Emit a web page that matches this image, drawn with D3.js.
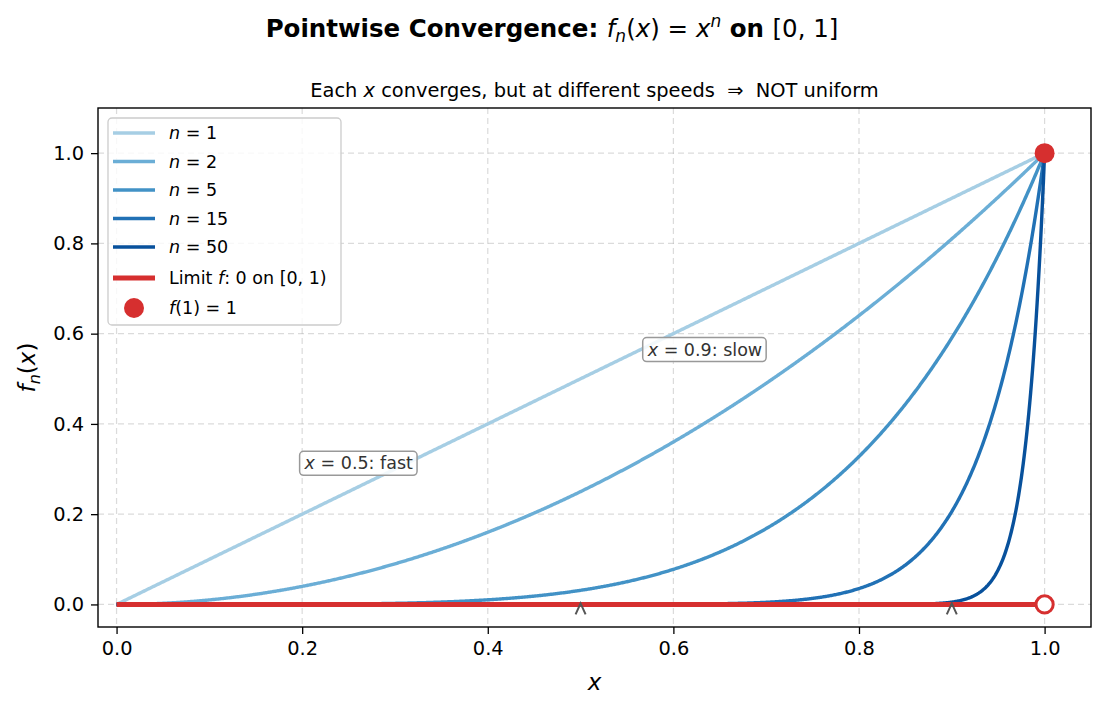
<!DOCTYPE html>
<html>
<head>
<meta charset="utf-8">
<script src="https://cdn.jsdelivr.net/npm/d3@7"></script>
<style>
  body { margin: 0; background: #fff; }
  text { font-family: "DejaVu Sans", sans-serif; fill: #000; }
</style>
</head>
<body>
<script>
// exponents shown in the chart and their colours
var powers = [1, 2, 5, 15, 50];
var powerColors = ['#a6cee4', '#6baed6', '#4292c6', '#2171b5', '#08519c'];
var xTicks = [0.0, 0.2, 0.4, 0.6, 0.8, 1.0];
var yTicks = [0.0, 0.2, 0.4, 0.6, 0.8, 1.0];
var notes = [
  {label: '0.5', word: 'fast', tx: 0.261, ty: 0.313, ax: 0.5},
  {label: '0.9', word: 'slow', tx: 0.634, ty: 0.565, ax: 0.9}
];

var W = 1105, H = 709;
var m = {left: 98, right: 14, top: 108, bottom: 82};
var red = '#d62f2f';

var svg = d3.select('body').append('svg')
  .attr('width', W)
  .attr('height', H);

var x = d3.scaleLinear().domain([-0.02, 1.05]).range([m.left, W - m.right]);
var y = d3.scaleLinear().domain([-0.05, 1.1]).range([H - m.bottom, m.top]);

// samples along [0,1]
var xs = d3.range(0, 1001).map(function(i) { return i / 1000; });

// grid
var grid = svg.append('g');
grid.selectAll('.gx').data(xTicks).enter().append('line')
  .attr('x1', function(d) { return x(d); })
  .attr('x2', function(d) { return x(d); })
  .attr('y1', y.range()[1]).attr('y2', y.range()[0])
  .attr('stroke', '#b0b0b0').attr('stroke-opacity', 0.45)
  .attr('stroke-width', 1.2).attr('stroke-dasharray', '6,4');
grid.selectAll('.gy').data(yTicks).enter().append('line')
  .attr('y1', function(d) { return y(d); })
  .attr('y2', function(d) { return y(d); })
  .attr('x1', x.range()[0]).attr('x2', x.range()[1])
  .attr('stroke', '#b0b0b0').attr('stroke-opacity', 0.45)
  .attr('stroke-width', 1.2).attr('stroke-dasharray', '6,4');

var line = d3.line()
  .x(function(d) { return x(d[0]); })
  .y(function(d) { return y(d[1]); });

svg.append('g').selectAll('path').data(powers).enter().append('path')
  .attr('d', function(n) { return line(xs.map(function(v) { return [v, Math.pow(v, n)]; })); })
  .attr('fill', 'none')
  .attr('stroke', function(d, i) { return powerColors[i]; })
  .attr('stroke-width', 3.4);

// limit function
svg.append('line')
  .attr('x1', x(0)).attr('x2', x(1))
  .attr('y1', y(0)).attr('y2', y(0))
  .attr('stroke', red).attr('stroke-width', 5);

svg.append('circle')
  .attr('cx', x(1)).attr('cy', y(0)).attr('r', 8.6)
  .attr('fill', '#fff').attr('stroke', red).attr('stroke-width', 3);
svg.append('circle')
  .attr('cx', x(1)).attr('cy', y(1)).attr('r', 10)
  .attr('fill', red);

// little arrow heads at the probed points
svg.append('g').selectAll('path').data(notes).enter().append('path')
  .attr('d', function(d) {
    var px = x(d.ax), py = y(0) - 1;
    return 'M' + (px - 5) + ',' + (py + 11) + 'L' + px + ',' + py + 'L' + (px + 5) + ',' + (py + 11);
  })
  .attr('fill', 'none').attr('stroke', '#555').attr('stroke-width', 2);

// note boxes
var nb = svg.append('g').selectAll('g').data(notes).enter().append('g')
  .attr('transform', function(d) { return 'translate(' + x(d.tx) + ',' + y(d.ty) + ')'; });
nb.each(function(d) {
  var g = d3.select(this);
  var rect = g.append('rect');
  var t = g.append('text')
    .attr('text-anchor', 'middle').attr('dy', '0.35em')
    .style('font-size', '17.5px').style('fill', '#333');
  t.append('tspan').style('font-style', 'italic').text('x');
  t.append('tspan').text(' = ' + d.label + ': ' + d.word);
  var bb = t.node().getBBox();
  rect.attr('x', bb.x - 4).attr('y', bb.y - 2)
    .attr('width', bb.width + 8).attr('height', bb.height + 4)
    .attr('rx', 4).attr('fill', '#fff').attr('fill-opacity', 0.85)
    .attr('stroke', '#999').attr('stroke-width', 1.5);
});

// axes
var fmt = d3.format('.1f');
var xAxis = svg.append('g').attr('transform', 'translate(0,' + (H - m.bottom) + ')')
  .call(d3.axisBottom(x).tickValues(xTicks).tickFormat(fmt).tickSizeOuter(0).tickSize(7).tickPadding(7));
var yAxis = svg.append('g').attr('transform', 'translate(' + m.left + ',0)')
  .call(d3.axisLeft(y).tickValues(yTicks).tickFormat(fmt).tickSizeOuter(0).tickSize(7).tickPadding(7));
[xAxis, yAxis].forEach(function(a) {
  a.select('.domain').remove();
  a.selectAll('text').style('font-size', '19.4px').style('fill', '#000');
  a.selectAll('line').attr('stroke', '#000').attr('stroke-width', 1.3);
});

svg.append('rect')
  .attr('x', m.left).attr('y', m.top)
  .attr('width', W - m.left - m.right).attr('height', H - m.top - m.bottom)
  .attr('fill', 'none').attr('stroke', '#000').attr('stroke-width', 1.4);

// titles
var title = svg.append('text')
  .attr('x', 552).attr('y', 37).attr('text-anchor', 'middle')
  .style('font-size', '24.5px');
title.append('tspan').style('font-weight', 'bold').text('Pointwise Convergence: ');
title.append('tspan').style('font-style', 'italic').text('f');
title.append('tspan').style('font-style', 'italic').style('font-size', '17px').attr('dy', 5).text('n');
title.append('tspan').attr('dy', -5).text('(');
title.append('tspan').style('font-style', 'italic').text('x');
title.append('tspan').text(') = ');
title.append('tspan').style('font-style', 'italic').text('x');
title.append('tspan').style('font-style', 'italic').style('font-size', '17px').attr('dy', -10).text('n');
title.append('tspan').attr('dy', 10).style('font-weight', 'bold').text(' on ');
title.append('tspan').text('[0, 1]');

var sub = svg.append('text')
  .attr('x', (m.left + W - m.right) / 2).attr('y', 97).attr('text-anchor', 'middle')
  .style('font-size', '19.4px');
sub.append('tspan').text('Each ');
sub.append('tspan').style('font-style', 'italic').text('x');
sub.append('tspan').text(' converges, but at different speeds \u00a0\u21d2\u00a0 NOT uniform');

svg.append('text')
  .attr('x', (m.left + W - m.right) / 2).attr('y', 690).attr('text-anchor', 'middle')
  .style('font-size', '23px').style('font-style', 'italic').text('x');

var yl = svg.append('text')
  .attr('transform', 'translate(35,' + ((m.top + H - m.bottom) / 2) + ') rotate(-90)')
  .attr('text-anchor', 'middle').style('font-size', '23px');
yl.append('tspan').style('font-style', 'italic').text('f');
yl.append('tspan').style('font-style', 'italic').style('font-size', '16px').attr('dy', 5).text('n');
yl.append('tspan').attr('dy', -5).text('(');
yl.append('tspan').style('font-style', 'italic').text('x');
yl.append('tspan').text(')');

// legend
var legend = svg.append('g').attr('transform', 'translate(108,118)');
legend.append('rect')
  .attr('width', 233).attr('height', 207).attr('rx', 4)
  .attr('fill', '#fff').attr('fill-opacity', 0.8)
  .attr('stroke', '#ccc').attr('stroke-width', 1.3);

var entries = powers.map(function(n, i) {
  return {kind: 'line', color: powerColors[i], width: 3.4, n: n};
});
entries.push({kind: 'line', color: red, width: 5, limit: true});
entries.push({kind: 'dot', color: red});

var rowOffsets = [15, 43.5, 72, 100.5, 129, 160, 190];
var rows = legend.selectAll('.row').data(entries).enter().append('g')
  .attr('transform', function(d, i) { return 'translate(0,' + rowOffsets[i] + ')'; });
rows.each(function(d) {
  var g = d3.select(this);
  if (d.kind === 'line') {
    g.append('line').attr('x1', 5).attr('x2', 47)
      .attr('stroke', d.color).attr('stroke-width', d.width);
  } else {
    g.append('circle').attr('cx', 26).attr('r', 10).attr('fill', d.color);
  }
  var t = g.append('text').attr('x', 61).attr('dy', '0.35em').style('font-size', '17.5px');
  if (d.n !== undefined) {
    t.append('tspan').style('font-style', 'italic').text('n');
    t.append('tspan').text(' = ' + d.n);
  } else if (d.limit) {
    t.append('tspan').text('Limit ');
    t.append('tspan').style('font-style', 'italic').text('f');
    t.append('tspan').text(': 0 on [0, 1)');
  } else {
    t.append('tspan').style('font-style', 'italic').text('f');
    t.append('tspan').text('(1) = 1');
  }
});
</script>
</body>
</html>
